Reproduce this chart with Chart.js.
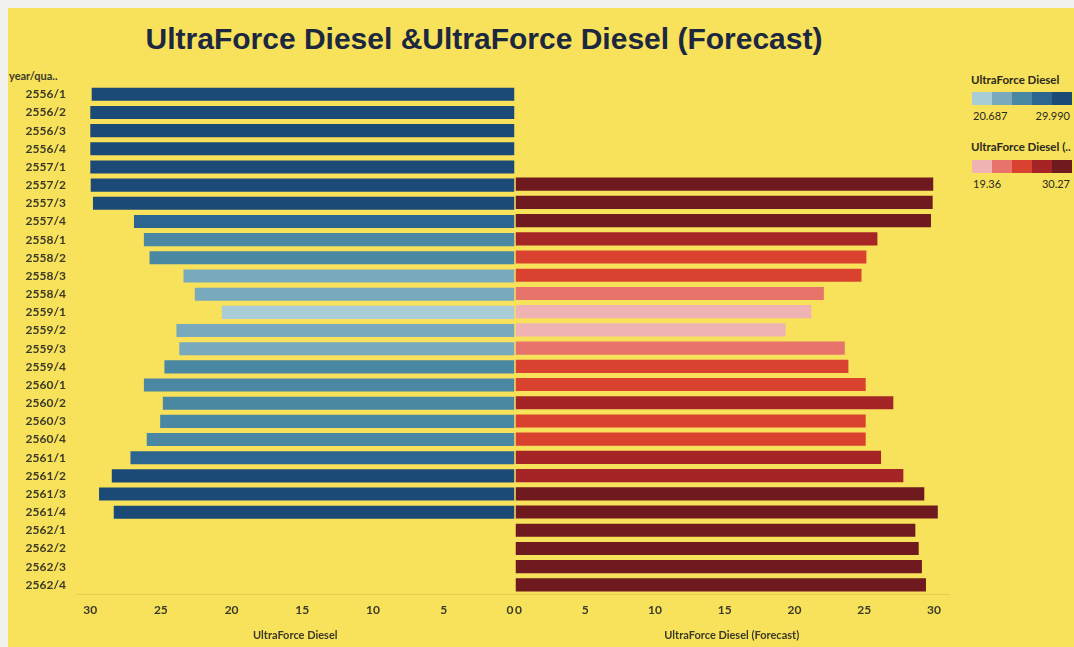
<!DOCTYPE html>
<html>
<head>
<meta charset="utf-8">
<script src="https://cdn.jsdelivr.net/npm/chart.js@4.4.1/dist/chart.umd.min.js"></script>
<style>
body{margin:0;background:#f1f1ee;width:1074px;height:647px;overflow:hidden;position:relative;font-family:Lato,sans-serif;}
#panel{position:absolute;left:8px;top:8px;width:1066px;height:639px;background:#f8e15b;}
#titulo{position:absolute;left:0;width:968px;top:22px;text-align:center;font:bold 30px "Liberation Sans",Arial,sans-serif;color:#1c2840;}
#cabecera{position:absolute;left:9px;top:69px;font:bold 11px Lato,sans-serif;color:#3b3a26;}
#izq{position:absolute;left:8px;top:68px;width:520px;height:579px;}
#der{position:absolute;left:503px;top:68px;width:445px;height:579px;}
#base{position:absolute;left:76px;top:594px;width:874px;height:1px;background:rgba(0,0,0,0.08);}
.ley-t{position:absolute;left:971px;font:bold 11.5px Lato,sans-serif;color:#2b2a1c;white-space:nowrap;}
.ley-b{position:absolute;left:972px;height:13px;display:flex;}
.ley-b div{width:20px;height:13px;}
.ley-n{position:absolute;font:11px Lato,sans-serif;color:#2b2a1c;}
</style>
</head>
<body>
<div id="panel"></div>
<div id="titulo">UltraForce Diesel &amp;UltraForce Diesel (Forecast)</div>
<div id="cabecera">year/qua..</div>
<div id="izq"><canvas id="graph"></canvas></div>
<div id="der"><canvas id="graph1"></canvas></div>
<div id="base"></div>

<div class="ley-t" style="top:73px">UltraForce Diesel</div>
<div class="ley-b" id="barra1" style="top:92px"></div>
<div class="ley-n" id="min1" style="left:973px;top:109px"></div>
<div class="ley-n" id="max1" style="left:1030px;top:109px;width:40px;text-align:right"></div>

<div class="ley-t" style="top:140px">UltraForce Diesel (..</div>
<div class="ley-b" id="barra2" style="top:160px"></div>
<div class="ley-n" id="min2" style="left:973px;top:177px"></div>
<div class="ley-n" id="max2" style="left:1030px;top:177px;width:40px;text-align:right"></div>

<script>
// datos
const periodos = [
    '2556/1','2556/2','2556/3','2556/4',
    '2557/1','2557/2','2557/3','2557/4',
    '2558/1','2558/2','2558/3','2558/4',
    '2559/1','2559/2','2559/3','2559/4',
    '2560/1','2560/2','2560/3','2560/4',
    '2561/1','2561/2','2561/3','2561/4',
    '2562/1','2562/2','2562/3','2562/4'
];
const diesel = [
    29.89, 29.99, 29.99, 29.99,
    29.99, 29.96, 29.80, 26.90,
    26.20, 25.80, 23.40, 22.60,
    20.687, 23.90, 23.70, 24.75,
    26.20, 24.86, 25.05, 26.00,
    27.15, 28.47, 29.37, 28.33,
    null, null, null, null
];
const pronostico = [
    null, null, null, null,
    null, 29.94, 29.90, 29.78,
    25.94, 25.15, 24.80, 22.10,
    21.20, 19.36, 23.60, 23.86,
    25.10, 27.08, 25.10, 25.10,
    26.20, 27.80, 29.30, 30.27,
    28.66, 28.90, 29.13, 29.42
];
const rango_diesel = [20.687, 29.990];
const rango_pronostico = [19.36, 30.27];
const azules = ['#a9cdd6', '#78a9bc', '#4a87a2', '#2b6590', '#1c4a77'];
const rojos = ['#f0b3b4', '#e7736a', '#d8422f', '#a52527', '#6f1a1f'];

const color_por_valor = (v, rango, paleta) => {
    if (v === null || v === undefined) return 'transparent';
    let paso = (rango[1] - rango[0]) / paleta.length;
    let i = Math.floor((v - rango[0]) / paso);
    if (i < 0) i = 0;
    if (i > paleta.length - 1) i = paleta.length - 1;
    return paleta[i];
};

// leyendas
const leyenda = (id, paleta) => {
    const barra = document.getElementById(id);
    paleta.map(c => {
        barra.innerHTML += `<div style="background:${c}"></div>`;
    });
};
leyenda('barra1', azules);
leyenda('barra2', rojos);
document.getElementById('min1').textContent = rango_diesel[0].toFixed(3);
document.getElementById('max1').textContent = rango_diesel[1].toFixed(3);
document.getElementById('min2').textContent = rango_pronostico[0].toFixed(2);
document.getElementById('max2').textContent = rango_pronostico[1].toFixed(2);

const texto = '#3b3a26';
const fuente_ticks = {family: 'Lato', size: 12, weight: 'bold'};
const fuente_titulo = {family: 'Lato', size: 11, weight: 'bold'};

// el cero de cada lado se corre hacia afuera para que se lean los dos
const eje_x = (titulo, invertido, cero) => ({
    reverse: invertido,
    min: 0,
    max: 31,
    ticks: {
        stepSize: 5, includeBounds: false, padding: 9, maxRotation: 0,
        font: fuente_ticks, color: texto,
        callback: v => v === 0 ? cero : v
    },
    grid: {display: false, drawTicks: false},
    border: {display: false},
    title: {display: true, text: titulo, font: fuente_titulo, color: texto, padding: {top: 0, bottom: 5}},
    afterFit: scale => {
        scale.height = 53;
        scale.paddingLeft = 0;
        scale.paddingRight = 0;
    }
});

const config_izq = {
    type: 'bar',
    data: {
        labels: periodos,
        datasets: [{
            data: diesel,
            backgroundColor: ctx => color_por_valor(ctx.raw, rango_diesel, azules),
            barPercentage: 0.72,
            categoryPercentage: 1
        }]
    },
    options: {
        indexAxis: 'y',
        responsive: true,
        maintainAspectRatio: false,
        animation: false,
        layout: {padding: {top: 16, left: 0, right: 13.5, bottom: 0}},
        plugins: {legend: {display: false}, tooltip: {enabled: false}},
        scales: {
            x: eje_x('UltraForce Diesel', true, '0\u2003'),
            y: {
                ticks: {autoSkip: false, padding: 10, font: fuente_ticks, color: texto},
                grid: {display: false, drawTicks: false},
                border: {display: false},
                afterFit: scale => { scale.width = 68; }
            }
        }
    }
};

const config_der = {
    type: 'bar',
    data: {
        labels: periodos,
        datasets: [{
            data: pronostico,
            backgroundColor: ctx => color_por_valor(ctx.raw, rango_pronostico, rojos),
            barPercentage: 0.72,
            categoryPercentage: 1
        }]
    },
    options: {
        indexAxis: 'y',
        responsive: true,
        maintainAspectRatio: false,
        animation: false,
        layout: {padding: {top: 16, left: 12.5, right: 0, bottom: 0}},
        plugins: {legend: {display: false}, tooltip: {enabled: false}},
        scales: {
            x: eje_x('UltraForce Diesel (Forecast)', false, '\u20020'),
            y: {display: false}
        }
    }
};

new Chart(document.querySelector('#graph'), config_izq);
new Chart(document.querySelector('#graph1'), config_der);
</script>
</body>
</html>
